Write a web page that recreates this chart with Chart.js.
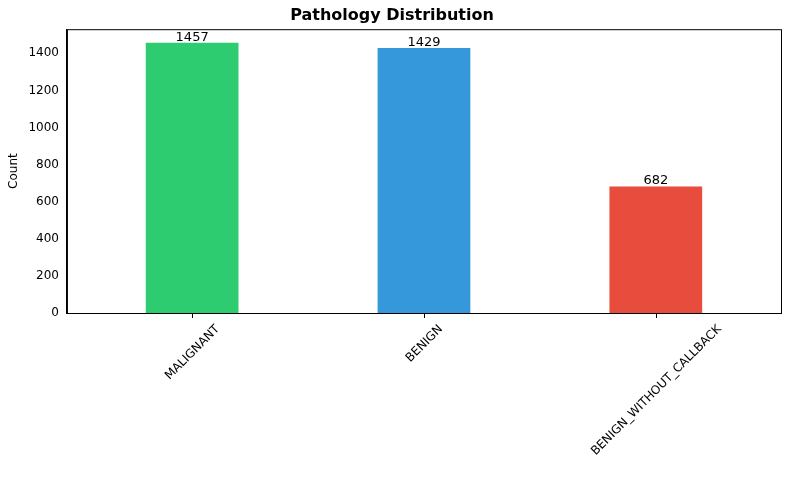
<!DOCTYPE html>
<html><head><meta charset="utf-8">
<script src="https://cdn.jsdelivr.net/npm/chart.js@4"></script>
<style>html,body{margin:0;padding:0;background:#fff}#w{width:790px;height:489px}</style>
</head><body><div id="w"><canvas id="c"></canvas></div>
<script>
const categories = ["MALIGNANT", "BENIGN", "BENIGN_WITHOUT_CALLBACK"];
const counts = [1457, 1429, 682];
const colors = ["#2ecc71", "#3498db", "#e74c3c"];
const yTicks = [0, 200, 400, 600, 800, 1000, 1200, 1400];

const F = "'DejaVu Sans', sans-serif";
const labelPlugin = {
  id: 'lbl',
  afterDatasetsDraw(chart) {
    const ctx = chart.ctx, meta = chart.getDatasetMeta(0);
    const a = chart.chartArea, xs = chart.scales.x;
    ctx.save();
    ctx.font = "13px " + F; ctx.fillStyle = "#000";
    ctx.textAlign = "center"; ctx.textBaseline = "bottom";
    meta.data.forEach((b, i) => ctx.fillText(String(counts[i]), b.x, b.y + 1));
    ctx.strokeStyle = "#000"; ctx.lineWidth = 1;
    ctx.strokeRect(a.left + 0.5, a.top + 0.5, a.right - a.left, a.bottom - a.top);
    ctx.font = "12px " + F; ctx.textBaseline = "middle";
    categories.forEach((c, i) => {
      const x = Math.round(xs.getPixelForValue(i)) + 0.5;
      ctx.beginPath(); ctx.moveTo(x, a.bottom); ctx.lineTo(x, a.bottom + 5); ctx.stroke();
      const w = ctx.measureText(c).width, h = 12;
      const bh = (w + h) * Math.SQRT1_2;
      ctx.save();
      ctx.translate(x, a.bottom + 10 + bh / 2);
      ctx.rotate(-Math.PI / 4);
      ctx.fillText(c, 0, 0);
      ctx.restore();
    });
    ctx.restore();
  }
};
new Chart(document.getElementById('c'), {
  type: 'bar',
  data: { datasets: [{ data: counts.map((v, i) => ({ x: i, y: v })), backgroundColor: colors,
    barPercentage: 0.8, categoryPercentage: 1 }] },
  options: {
    responsive: true, maintainAspectRatio: false, animation: false,
    layout: { padding: { left: 3, right: 9, top: 0, bottom: 176 } },
    plugins: { legend: { display: false }, tooltip: { enabled: false },
      title: { display: true, text: "Pathology Distribution", color: "#000",
        font: { family: F, size: 16, weight: 'bold' }, padding: { top: 6, bottom: 4 } } },
    scales: {
      x: { type: 'linear', min: -0.54, max: 2.54, offset: false,
        grid: { display: false, drawTicks: false },
        border: { color: '#000' },
        ticks: { display: false } },
      y: { min: 0, max: 1530,
        afterBuildTicks(s) { s.ticks = yTicks.map(v => ({ value: v })); },
        grid: { display: false, drawTicks: true, tickLength: 5, tickColor: '#000' },
        border: { color: '#000' },
        title: { display: true, text: "Count", color: '#000', font: { family: F, size: 12 } },
        ticks: { color: '#000', font: { family: F, size: 12 }, callback: v => String(v) } }
    }
  },
  plugins: [labelPlugin]
});
</script></body></html>
